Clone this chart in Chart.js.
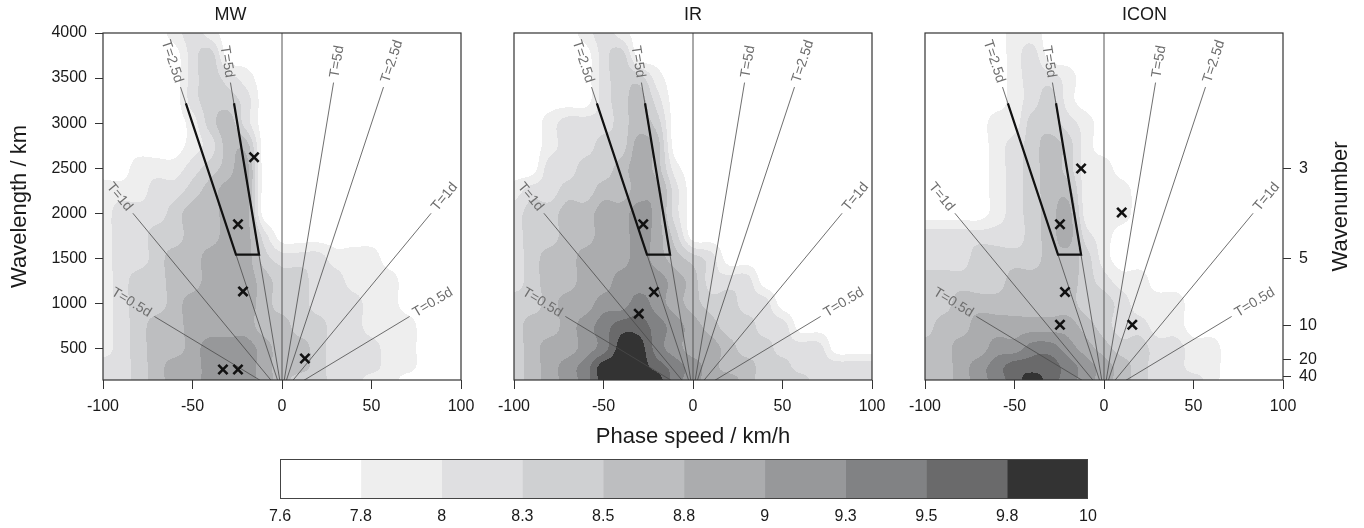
<!DOCTYPE html>
<html><head><meta charset="utf-8">
<script src="https://cdn.jsdelivr.net/npm/chart.js@4.4.1/dist/chart.umd.min.js"></script>
<style>
html,body{margin:0;padding:0;background:#fff;}
#wrap{position:relative;width:1364px;height:528px;overflow:hidden;background:#fff;}
.box{position:absolute;}
canvas{display:block;}
</style></head><body>
<div id="wrap">
  <div class="box" style="left:0px;top:0px;width:491px;height:460px"><canvas id="c1" width="491" height="460"></canvas></div>
  <div class="box" style="left:484px;top:0px;width:418px;height:460px"><canvas id="c2" width="418" height="460"></canvas></div>
  <div class="box" style="left:895px;top:0px;width:469px;height:460px"><canvas id="c3" width="469" height="460"></canvas></div>
  <div class="box" style="left:260px;top:455px;width:850px;height:73px"><canvas id="cb" width="850" height="73"></canvas></div>
</div>
<script>
// ---------------- data ----------------
const speedCols = [-100,-90,-80,-70,-60,-50,-40,-30,-20,-10,0,10,20,30,40,50,60,70,80,90,100];
const wavelengthRows = [4000,3750,3500,3250,3000,2750,2500,2250,2000,1750,1500,1250,1000,750,500,300,150];
const levelLabels = ['7.6','7.8','8','8.3','8.5','8.8','9','9.3','9.5','9.8','10'];
const levelColors = ['#ffffff','#eeeeee','#dfdfe1','#cfd0d2','#bdbec0','#abacae','#97989a','#818284','#6a6a6b','#333333'];

// level class (0-9) per wavelength row (top to bottom) and phase-speed column (left to right)
const mwLevels = [
"000012100000000000000",
"000002300000000000000",
"000002321000000000000",
"000002332000000000000",
"000001342000000000000",
"000001244000000000000",
"001112345000000000000",
"111223455000000000000",
"122234455000000000000",
"122334455200000000000",
"122344555322211100000",
"123344555433221110000",
"123345555433222110000",
"123445555443322111000",
"123445666544322211000",
"223455666544322211000",
"223455666543322110000"
];
const irLevels = [
"000012100000000000000",
"000002300000000000000",
"000002331000000000000",
"000002342000000000000",
"001222343000000000000",
"001223354000000000000",
"002233454100000000000",
"122334455200000000000",
"233445565200000000000",
"233445565300000000000",
"234455565432000000000",
"234455666542220000000",
"334556676543322000000",
"344567887654332200000",
"345567997655433222000",
"345679998765443322222",
"345679999765543332222"
];
const iconLevels = [
"000001100000000000000",
"000001200000000000000",
"000001221000000000000",
"000001231000000000000",
"000011332100000000000",
"000012343100000000000",
"000012343110000000000",
"000012344111000000000",
"000012345111000000000",
"222222345210000000000",
"222333344310000000000",
"333334444321100000000",
"334444444332111000000",
"344555555432211000000",
"445566776543322110000",
"445678887654322110000",
"445678987654322210000"
];

const mwMarkX = [-15.6,-24.6,-21.8,-33,-24.6,12.8];
const mwMarkY = [2622,1878,1133,267,267,389];
const irMarkX = [-27.8,-21.8,-30.3];
const irMarkY = [1878,1126,886];
const iconMarkX = [-12.8,9.9,-24.6,-21.8,-24.6,15.8];
const iconMarkY = [2497,2008,1878,1126,763,763];

const periodLabels = ['T=5d','T=2.5d','T=1d','T=0.5d','T=5d','T=2.5d','T=1d','T=0.5d'];
const periodEndX = [-28.8,-56.7,-83.3,-71.3,28.8,56.7,83.3,71.3];
const periodEndY = [3450,3400,2000,855,3450,3400,2000,855];

const boxX = [-53.7,-25.7,-12.8,-26.8];
const boxY = [3220,1540,1540,3220];

const xTickVals = [-100,-50,0,50,100];
const yTickVals = [500,1000,1500,2000,2500,3000,3500,4000];
const wnTickVals = [2500,1500,750,375,187.5];
const wnTickLabels = ['3','5','10','20','40'];

// ---------------- drawing ----------------
const FONT = "'Liberation Sans', Arial, Helvetica, sans-serif";
const TXT = '#1a1a1a';

function fracIndex(arr, v){
  const n = arr.length;
  for (let k=0;k<n-1;k++){
    const a0=arr[k], a1=arr[k+1];
    if (v>=Math.min(a0,a1) && v<=Math.max(a0,a1)) return k + (v-a0)/(a1-a0);
  }
  const asc = arr[n-1] > arr[0];
  if (asc) return v < arr[0] ? 0 : n-1;
  return v > arr[0] ? 0 : n-1;
}
// Catmull-Rom weights and indices for a fractional position in an array of length n
function cubicTaps(pos, n){
  let i1 = Math.floor(pos); if (i1 > n-2) i1 = n-2; if (i1 < 0) i1 = 0;
  const t = pos - i1, t2 = t*t, t3 = t2*t;
  const w = [0.5*(-t + 2*t2 - t3), 0.5*(2 - 5*t2 + 3*t3), 0.5*(t + 4*t2 - 3*t3), 0.5*(-t2 + t3)];
  const idx = [i1-1, i1, i1+1, i1+2].map(k=>Math.max(0, Math.min(n-1, k)));
  return {idx, w};
}
const rgbLevels = levelColors.map(h=>[parseInt(h.slice(1,3),16),parseInt(h.slice(3,5),16),parseInt(h.slice(5,7),16)]);

const contourPlugin = {
  id:'contour',
  beforeDatasetsDraw(chart, args, opts){
    if (!opts || !opts.rows) return;
    const a = chart.chartArea, xs = chart.scales.x, ys = chart.scales.y;
    const L = Math.round(a.left), T = Math.round(a.top);
    const W = Math.round(a.right)-L, H = Math.round(a.bottom)-T;
    const off = document.createElement('canvas'); off.width=W; off.height=H;
    const octx = off.getContext('2d'); const img = octx.createImageData(W,H); const d = img.data;
    const grid = opts.rows.map(r=>r.split('').map(Number));
    const nr = grid.length, nc = grid[0].length;
    const ctaps = [];
    for (let i=0;i<W;i++) ctaps.push(cubicTaps(fracIndex(speedCols, xs.getValueForPixel(L+i+0.5)), nc));
    for (let j=0;j<H;j++){
      const rt = cubicTaps(fracIndex(wavelengthRows, ys.getValueForPixel(T+j+0.5)), nr);
      for (let i=0;i<W;i++){
        const ct = ctaps[i];
        let v = 0;
        for (let a1=0;a1<4;a1++){
          const row = grid[rt.idx[a1]];
          const rv = row[ct.idx[0]]*ct.w[0] + row[ct.idx[1]]*ct.w[1] + row[ct.idx[2]]*ct.w[2] + row[ct.idx[3]]*ct.w[3];
          v += rv*rt.w[a1];
        }
        let b = Math.round(v); if (b<0) b=0; if (b>9) b=9;
        const col = rgbLevels[b]; const p = (j*W+i)*4;
        d[p]=col[0]; d[p+1]=col[1]; d[p+2]=col[2]; d[p+3]=255;
      }
    }
    octx.putImageData(img,0,0);
    chart.ctx.drawImage(off, L, T);
  }
};

const overlayPlugin = {
  id:'overlay',
  afterDatasetsDraw(chart, args, opts){
    const ctx = chart.ctx, a = chart.chartArea, xs = chart.scales.x, ys = chart.scales.y;
    ctx.save();
    const x0 = xs.getPixelForValue(0), y0 = ys.getPixelForValue(0);
    ctx.font = `14px ${FONT}`;
    ctx.fillStyle = '#6e6e6e';
    ctx.textAlign='center'; ctx.textBaseline='middle';
    periodEndX.forEach((ex,i)=>{
      const px = xs.getPixelForValue(ex), py = ys.getPixelForValue(periodEndY[i]);
      let ux = px-x0, uy = py-y0; const len = Math.hypot(ux,uy); ux/=len; uy/=len;
      const w = ctx.measureText(periodLabels[i]).width;
      const cx = px + ux*(5+w/2), cy = py + uy*(5+w/2);
      const ang = ux>=0 ? Math.atan2(uy,ux) : Math.atan2(-uy,-ux);
      ctx.save(); ctx.translate(cx,cy); ctx.rotate(ang); ctx.fillText(periodLabels[i],0,0); ctx.restore();
    });
    ctx.strokeStyle = '#333'; ctx.lineWidth = 1.2;
    ctx.strokeRect(a.left, a.top, a.right-a.left, a.bottom-a.top);
    ctx.restore();
  },
  afterDraw(chart, args, opts){
    if (!opts || !opts.rightTitle) return;
    const ctx = chart.ctx, a = chart.chartArea;
    ctx.save();
    ctx.font = `22px ${FONT}`; ctx.fillStyle = TXT; ctx.textAlign='center'; ctx.textBaseline='middle';
    ctx.translate(opts.rightTitleX, (a.top+a.bottom)/2); ctx.rotate(-Math.PI/2);
    ctx.fillText(opts.rightTitle, 0, 0);
    ctx.restore();
  }
};

function panelDatasets(markX, markY){
  const ds = [];
  ds.push({data: markX.map((x,i)=>({x, y:markY[i]})), pointStyle:'crossRot', pointRadius:6.5, borderWidth:2.6,
           borderColor:'#111', backgroundColor:'#111', showLine:false, order:0});
  ds.push({data: boxX.map((x,i)=>({x, y:boxY[i]})), showLine:true, borderColor:'#111', borderWidth:2.2,
           pointRadius:0, fill:false, borderJoinStyle:'miter', order:1});
  periodEndX.forEach((x,i)=> ds.push({data:[{x:0,y:0},{x, y:periodEndY[i]}], showLine:true, borderColor:'#4a4a4a',
           borderWidth:0.8, pointRadius:0, fill:false, order:2}));
  ds.push({data:[{x:0,y:150},{x:0,y:4000}], showLine:true, borderColor:'#555', borderWidth:1, pointRadius:0, order:3});
  return ds;
}

function panelOptions(p){
  const scales = {
    x:{type:'linear', min:-100, max:100,
       afterBuildTicks:s=>{s.ticks = xTickVals.map(v=>({value:v}));},
       afterFit:s=>{s.height = 80;},
       ticks:{color:TXT, font:{family:FONT,size:16}, padding:8, maxRotation:0, autoSkip:false, callback:v=>String(v)},
       grid:{drawOnChartArea:false, tickLength:9, tickColor:'#333', color:'#333', lineWidth:1},
       border:{display:false},
       title:{display:!!p.xTitle, text:p.xTitle||'', color:TXT, font:{family:FONT,size:22}, padding:{top:0,bottom:10}}},
    y:{type:'linear', min:150, max:4000, display:p.showY, position:'left',
       afterBuildTicks:s=>{s.ticks = yTickVals.map(v=>({value:v}));},
       afterFit:s=>{ if (p.showY) s.width = 103; else s.width = 0; },
       ticks:{color:TXT, font:{family:FONT,size:16}, padding:8, autoSkip:false, callback:v=>String(v)},
       grid:{drawOnChartArea:false, tickLength:8, tickColor:'#333', color:'#333'},
       border:{display:false},
       title:{display:true, text:'Wavelength / km', color:TXT, font:{family:FONT,size:22}, padding:{top:7,bottom:0}}}
  };
  if (p.wn){
    scales.y2 = {type:'linear', min:150, max:4000, position:'right',
       afterBuildTicks:s=>{s.ticks = wnTickVals.map(v=>({value:v}));},
       afterFit:s=>{s.width = 81;},
       ticks:{color:TXT, font:{family:FONT,size:16}, padding:8, autoSkip:false, callback:(v,i)=>wnTickLabels[i]},
       grid:{drawOnChartArea:false, tickLength:8, tickColor:'#333', color:'#333'},
       border:{display:false}};
  }
  return {
    responsive:false, animation:false, devicePixelRatio:1,
    layout:{padding:{left:p.padL, right:p.padR, top:0, bottom:0}},
    plugins:{
      legend:{display:false}, tooltip:{enabled:false},
      title:{display:true, text:p.title, color:TXT, font:{family:FONT,size:18,weight:'normal'}, padding:{top:4,bottom:7.4}},
      contour:{rows:p.rows},
      overlay:{rightTitle:p.wn ? 'Wavenumber' : null, rightTitleX: 446}
    },
    scales
  };
}

new Chart(document.getElementById('c1'), {
  type:'scatter', data:{datasets:panelDatasets(mwMarkX, mwMarkY)},
  options:panelOptions({title:'MW', rows:mwLevels, showY:true, padL:0, padR:30}),
  plugins:[contourPlugin, overlayPlugin]
});
new Chart(document.getElementById('c2'), {
  type:'scatter', data:{datasets:panelDatasets(irMarkX, irMarkY)},
  options:panelOptions({title:'IR', rows:irLevels, showY:false, padL:30, padR:30, xTitle:'Phase speed / km/h'}),
  plugins:[contourPlugin, overlayPlugin]
});
new Chart(document.getElementById('c3'), {
  type:'scatter', data:{datasets:panelDatasets(iconMarkX, iconMarkY)},
  options:panelOptions({title:'ICON', rows:iconLevels, showY:false, padL:30, padR:0, wn:true}),
  plugins:[contourPlugin, overlayPlugin]
});

const cbFrame = {
  id:'cbframe',
  afterDatasetsDraw(chart){
    const ctx = chart.ctx, a = chart.chartArea;
    ctx.save(); ctx.strokeStyle='#444'; ctx.lineWidth=1;
    ctx.strokeRect(Math.round(a.left)+0.5, Math.round(a.top)+0.5, Math.round(a.right-a.left)-1, Math.round(a.bottom-a.top)-1);
    ctx.restore();
  }
};
new Chart(document.getElementById('cb'), {
  type:'bar',
  data:{labels:[''], datasets: levelColors.map(c=>({data:[1], backgroundColor:c, borderWidth:0, barPercentage:1, categoryPercentage:1, stack:'s'}))},
  options:{
    indexAxis:'y', responsive:false, animation:false, devicePixelRatio:1,
    layout:{padding:{left:20, right:22, top:4, bottom:0}},
    plugins:{legend:{display:false}, tooltip:{enabled:false}},
    scales:{
      x:{stacked:true, min:0, max:10,
         afterBuildTicks:s=>{s.ticks = levelLabels.map((_,i)=>({value:i}));},
         afterFit:s=>{s.height = 29;},
         ticks:{color:TXT, font:{family:FONT,size:16}, padding:8, maxRotation:0, autoSkip:false, callback:(v,i)=>levelLabels[i]},
         grid:{display:false, drawTicks:false}, border:{display:false}},
      y:{stacked:true, display:false}
    }
  },
  plugins:[cbFrame]
});
</script>
</body></html>
